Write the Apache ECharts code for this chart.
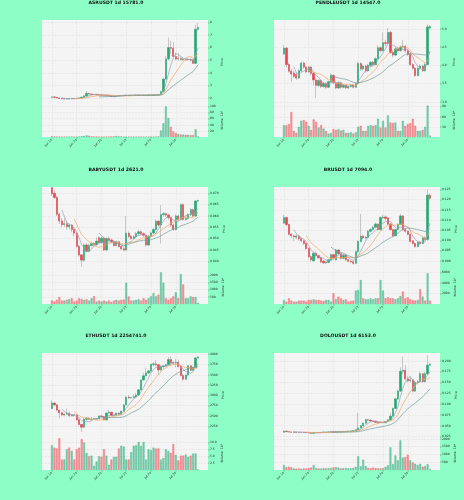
<!DOCTYPE html>
<html>
<head>
<meta charset="utf-8">
<script src="https://cdn.jsdelivr.net/npm/echarts@6/dist/echarts.min.js"></script>
<style>
  html, body { margin: 0; padding: 0; background: #8dffc6; }
  #chart { width: 464px; height: 500px; }
</style>
</head>
<body>
<div id="chart"></div>
<script>
// daily candles, Jun 10 - Aug 08
var dates = [
  'Jun 10','Jun 11','Jun 12','Jun 13','Jun 14','Jun 15','Jun 16','Jun 17','Jun 18','Jun 19',
  'Jun 20','Jun 21','Jun 22','Jun 23','Jun 24','Jun 25','Jun 26','Jun 27','Jun 28','Jun 29',
  'Jun 30','Jul 01','Jul 02','Jul 03','Jul 04','Jul 05','Jul 06','Jul 07','Jul 08','Jul 09',
  'Jul 10','Jul 11','Jul 12','Jul 13','Jul 14','Jul 15','Jul 16','Jul 17','Jul 18','Jul 19',
  'Jul 20','Jul 21','Jul 22','Jul 23','Jul 24','Jul 25','Jul 26','Jul 27','Jul 28','Jul 29',
  'Jul 30','Jul 31','Aug 01','Aug 02','Aug 03','Aug 04','Aug 05','Aug 06','Aug 07','Aug 08'
];

// [open, close, low, high]
var asrOhlc = [
  [2.06,2.08,2.04,2.10],[2.08,2.05,2.03,2.10],[2.05,2.00,1.98,2.07],[2.00,1.96,1.94,2.02],[1.96,1.93,1.91,1.98],
  [1.93,1.92,1.89,1.95],[1.92,1.93,1.90,1.95],[1.93,1.95,1.91,1.97],[1.95,1.96,1.93,1.98],[1.96,1.95,1.93,1.98],
  [1.95,1.98,1.94,2.00],[1.98,2.00,1.96,2.02],[2.00,2.06,1.98,2.09],[2.06,2.16,2.04,2.22],[2.16,2.36,2.13,2.55],
  [2.36,2.31,2.27,2.42],[2.31,2.28,2.25,2.34],[2.28,2.27,2.24,2.31],[2.27,2.25,2.22,2.30],[2.25,2.23,2.20,2.27],
  [2.23,2.22,2.19,2.26],[2.22,2.20,2.17,2.24],[2.20,2.18,2.15,2.22],[2.18,2.16,2.13,2.20],[2.16,2.12,2.10,2.18],
  [2.12,2.10,2.07,2.14],[2.10,2.16,2.08,2.18],[2.16,2.20,2.14,2.23],[2.20,2.19,2.17,2.23],[2.19,2.21,2.17,2.24],
  [2.21,2.22,2.19,2.27],[2.22,2.20,2.18,2.24],[2.20,2.22,2.18,2.24],[2.22,2.21,2.19,2.24],[2.21,2.23,2.19,2.25],
  [2.23,2.22,2.20,2.25],[2.22,2.21,2.19,2.24],[2.21,2.23,2.20,2.25],[2.23,2.22,2.20,2.25],[2.22,2.24,2.20,2.26],
  [2.24,2.23,2.21,2.27],[2.23,2.25,2.21,2.28],[2.25,2.24,2.22,2.28],[2.24,2.27,2.22,2.30],[2.27,2.50,2.25,2.55],
  [2.50,3.50,2.48,3.60],[3.50,5.10,3.45,5.30],[5.10,6.00,5.00,6.80],[6.00,5.95,5.50,6.55],[5.95,5.30,5.20,6.45],
  [5.30,5.10,5.00,5.60],[5.10,5.12,4.95,5.50],[5.12,5.05,4.95,5.35],[5.05,5.08,4.95,5.25],[5.08,5.05,4.92,5.20],
  [5.05,5.05,4.95,5.20],[5.05,5.00,4.90,5.20],[5.00,4.75,4.70,5.10],[4.75,7.45,4.70,7.80],[7.45,7.60,7.30,7.95]
];
var asrVol = [
  2,1.5,1.2,1,1,1.2,1,1,1.2,1,1,1.5,2.5,3.5,
  5,4,2,1.5,1.2,1,1,1,1,1.2,1.5,2,3,2.5,1.5,1.2,
  1,1,1,1,1,1.2,1,1,1.2,1,1.5,1,1.2,2,
  21,45,100,62,33,18,13,10,8,8,7,7,6,6,25,2
];

var pendleOhlc = [
  [4.31,4.47,4.28,4.55],[4.47,4.02,3.95,4.50],[4.02,3.84,3.80,4.08],[3.84,3.76,3.55,3.90],[3.79,3.70,3.65,3.85],
  [3.75,3.65,3.60,3.80],[3.65,3.85,3.62,3.90],[3.85,4.06,3.82,4.10],[4.06,3.95,3.90,4.10],[3.95,3.82,3.78,3.98],
  [3.82,3.95,3.78,3.98],[3.95,3.78,3.72,3.98],[3.78,3.60,3.45,3.82],[3.60,3.45,3.10,3.65],[3.45,3.58,3.40,3.62],
  [3.58,3.42,3.38,3.62],[3.42,3.50,3.38,3.55],[3.50,3.40,3.36,3.54],[3.40,3.55,3.38,3.58],[3.55,3.72,3.52,3.78],
  [3.72,3.52,3.48,3.75],[3.52,3.38,3.34,3.56],[3.38,3.52,3.35,3.56],[3.52,3.40,3.36,3.55],[3.40,3.45,3.37,3.49],
  [3.45,3.38,3.35,3.48],[3.38,3.42,3.35,3.45],[3.42,3.45,3.39,3.48],[3.46,3.40,3.37,3.49],[3.40,3.50,3.38,3.53],
  [3.50,4.05,3.48,4.10],[4.05,3.90,3.85,4.08],[3.90,3.98,3.86,4.02],[3.98,3.85,3.80,4.02],[3.85,4.00,3.82,4.04],
  [4.00,4.08,3.96,4.12],[4.08,4.02,3.98,4.12],[4.02,4.18,4.00,4.22],[4.18,4.48,4.15,4.55],[4.48,4.40,4.35,4.52],
  [4.40,4.62,4.38,4.90],[4.62,4.60,4.52,4.70],[4.60,4.90,4.58,5.02],[4.90,4.35,4.30,4.95],[4.35,4.28,4.22,4.40],
  [4.28,4.45,4.25,4.50],[4.45,4.40,4.36,4.50],[4.40,4.50,4.37,4.55],[4.50,4.52,4.45,4.70],[4.52,4.40,4.35,4.56],
  [4.40,4.30,4.25,4.44],[4.30,4.02,3.98,4.33],[4.02,3.92,3.88,4.06],[3.92,3.72,3.68,3.95],[3.72,3.92,3.70,3.96],
  [3.92,3.98,3.88,4.02],[3.98,3.85,3.82,4.02],[3.85,4.02,3.83,4.06],[4.02,5.05,4.00,5.12],[5.02,5.06,4.98,5.10]
];
var pendleVol = [
  35,35,38,74,18,12,30,48,50,45,33,21,52,45,28,35,25,18,10,12,
  23,21,23,19,21,12,12,14,10,14,30,33,18,18,33,35,33,35,54,28,
  48,28,64,43,41,43,18,18,48,33,38,41,54,33,18,18,21,30,93,4
];

var babyOhlc = [
  [0.0725,0.0698,0.0690,0.0728],[0.0700,0.0682,0.0675,0.0712],[0.0682,0.0608,0.0600,0.0688],[0.0608,0.0578,0.0565,0.0615],
  [0.0578,0.0562,0.0550,0.0590],[0.0562,0.0566,0.0552,0.0590],[0.0566,0.0552,0.0540,0.0575],[0.0552,0.0560,0.0540,0.0566],
  [0.0560,0.0540,0.0528,0.0565],[0.0540,0.0524,0.0510,0.0548],[0.0524,0.0466,0.0460,0.0530],[0.0466,0.0428,0.0420,0.0472],
  [0.0428,0.0405,0.0375,0.0432],[0.0405,0.0472,0.0398,0.0478],[0.0472,0.0444,0.0438,0.0480],[0.0444,0.0470,0.0440,0.0478],
  [0.0470,0.0478,0.0462,0.0488],[0.0478,0.0474,0.0466,0.0486],[0.0474,0.0489,0.0470,0.0505],[0.0504,0.0482,0.0478,0.0510],
  [0.0482,0.0502,0.0478,0.0510],[0.0502,0.0450,0.0445,0.0506],[0.0450,0.0500,0.0446,0.0506],[0.0500,0.0494,0.0488,0.0510],
  [0.0494,0.0486,0.0478,0.0500],[0.0486,0.0470,0.0465,0.0492],[0.0470,0.0486,0.0466,0.0492],[0.0486,0.0465,0.0460,0.0490],
  [0.0465,0.0455,0.0450,0.0472],[0.0455,0.0450,0.0445,0.0462],[0.0450,0.0524,0.0446,0.0600],[0.0524,0.0510,0.0502,0.0532],
  [0.0510,0.0500,0.0495,0.0516],[0.0500,0.0508,0.0494,0.0515],[0.0508,0.0522,0.0502,0.0530],[0.0522,0.0530,0.0515,0.0540],
  [0.0530,0.0522,0.0515,0.0536],[0.0522,0.0515,0.0508,0.0528],[0.0515,0.0472,0.0465,0.0520],[0.0472,0.0510,0.0468,0.0515],
  [0.0510,0.0525,0.0505,0.0532],[0.0525,0.0540,0.0520,0.0548],[0.0540,0.0577,0.0536,0.0585],[0.0577,0.0560,0.0552,0.0582],
  [0.0560,0.0606,0.0478,0.0648],[0.0606,0.0610,0.0598,0.0618],[0.0610,0.0604,0.0596,0.0615],[0.0604,0.0592,0.0585,0.0610],
  [0.0592,0.0560,0.0552,0.0598],[0.0560,0.0540,0.0535,0.0566],[0.0540,0.0600,0.0536,0.0606],[0.0600,0.0585,0.0578,0.0605],
  [0.0585,0.0650,0.0580,0.0655],[0.0650,0.0585,0.0578,0.0656],[0.0585,0.0590,0.0578,0.0598],[0.0590,0.0606,0.0584,0.0612],
  [0.0606,0.0628,0.0600,0.0635],[0.0628,0.0600,0.0594,0.0632],[0.0600,0.0666,0.0596,0.0670],[0.0666,0.0668,0.0660,0.0672]
];
var babyVol = [
  240,170,290,480,240,240,290,330,400,170,240,400,330,290,330,240,400,530,170,240,
  170,240,170,240,140,240,290,240,290,300,1480,520,240,240,290,330,240,400,290,400,
  530,760,530,640,2200,1480,400,290,400,530,810,400,2080,1360,400,400,530,480,480,80
];

var brOhlc = [
  [0.1085,0.1112,0.1080,0.1125],[0.1112,0.1078,0.1070,0.1118],[0.1078,0.1030,0.1025,0.1082],[0.1030,0.1022,0.1012,0.1038],
  [0.1022,0.1018,0.0998,0.1030],[0.1015,0.1022,0.1008,0.1030],[0.1022,0.1008,0.1000,0.1028],[0.1008,0.0998,0.0990,0.1015],
  [0.0998,0.0985,0.0978,0.1005],[0.0985,0.0960,0.0955,0.0990],[0.0960,0.0920,0.0912,0.0965],[0.0920,0.0905,0.0895,0.0926],
  [0.0900,0.0937,0.0895,0.0942],[0.0937,0.0925,0.0918,0.0945],[0.0925,0.0915,0.0908,0.0930],[0.0915,0.0895,0.0888,0.0920],
  [0.0898,0.0890,0.0884,0.0904],[0.0890,0.0893,0.0885,0.0898],[0.0893,0.0905,0.0888,0.0910],[0.0905,0.0930,0.0900,0.0936],
  [0.0930,0.0915,0.0908,0.0936],[0.0905,0.0953,0.0902,0.0958],[0.0953,0.0935,0.0928,0.0958],[0.0935,0.0912,0.0905,0.0940],
  [0.0912,0.0928,0.0908,0.0932],[0.0928,0.0905,0.0900,0.0932],[0.0905,0.0898,0.0892,0.0910],[0.0898,0.0895,0.0888,0.0903],
  [0.0895,0.0888,0.0882,0.0900],[0.0888,0.0945,0.0885,0.0950],[0.0945,0.0995,0.0940,0.1000],[0.0995,0.1020,0.0990,0.1130],
  [0.1020,0.1012,0.1005,0.1030],[0.1012,0.1015,0.1005,0.1022],[0.1015,0.1045,0.1010,0.1050],[0.1045,0.1053,0.1040,0.1060],
  [0.1053,0.1065,0.1048,0.1072],[0.1065,0.1080,0.1060,0.1088],[0.1080,0.1053,0.1048,0.1085],[0.1053,0.1112,0.1050,0.1118],
  [0.1112,0.1115,0.1105,0.1125],[0.1115,0.1108,0.1100,0.1122],[0.1110,0.1080,0.1075,0.1115],[0.1080,0.1053,0.1048,0.1085],
  [0.1053,0.1023,0.1018,0.1058],[0.1023,0.1053,0.1020,0.1058],[0.1053,0.1078,0.1050,0.1085],[0.1078,0.1120,0.1075,0.1130],
  [0.1120,0.1053,0.1048,0.1125],[0.1053,0.1045,0.1038,0.1060],[0.1045,0.1030,0.1025,0.1050],[0.1030,0.0995,0.0990,0.1035],
  [0.0998,0.0985,0.0978,0.1002],[0.0985,0.0970,0.0962,0.0990],[0.0970,0.0992,0.0965,0.0998],[0.0992,0.0985,0.0978,0.0998],
  [0.0985,0.1012,0.0980,0.1018],[0.1012,0.1005,0.0998,0.1020],[0.1005,0.1222,0.1000,0.1250],[0.1222,0.1207,0.1195,0.1232]
];
var brVol = [
  760,440,1080,630,440,440,630,630,630,440,760,760,890,760,760,630,570,760,760,440,
  2030,890,1400,1080,760,890,440,570,630,2540,2670,4570,1080,890,890,1080,890,1080,1080,4570,
  2540,1080,1270,1080,1080,890,1080,1520,2350,1080,1270,890,760,630,760,2800,1400,630,5840,630
];

var ethOhlc = [
  [2680,2815,2660,2880],[2815,2770,2740,2830],[2770,2645,2625,2790],[2645,2580,2440,2650],[2580,2525,2505,2600],
  [2525,2545,2500,2560],[2545,2565,2535,2680],[2565,2510,2480,2610],[2510,2525,2490,2545],[2525,2520,2480,2535],
  [2520,2410,2390,2545],[2410,2295,2285,2440],[2295,2230,2110,2300],[2230,2420,2200,2440],[2420,2450,2380,2470],
  [2450,2420,2410,2460],[2420,2425,2380,2470],[2425,2430,2405,2450],[2430,2435,2420,2445],[2435,2500,2425,2505],
  [2500,2485,2470,2520],[2485,2405,2390,2495],[2405,2570,2400,2580],[2570,2590,2560,2640],[2590,2515,2500,2600],
  [2515,2520,2500,2525],[2520,2570,2500,2580],[2570,2540,2520,2590],[2540,2615,2530,2630],[2615,2770,2610,2790],
  [2770,2955,2760,2990],[2955,2940,2915,3010],[2940,2945,2930,2960],[2945,2970,2940,3020],[2970,3010,2950,3060],
  [3010,3135,2990,3150],[3135,3375,3125,3385],[3375,3475,3365,3550],[3475,3545,3470,3675],[3545,3595,3530,3620],
  [3595,3755,3560,3760],[3755,3765,3715,3810],[3765,3745,3700,3860],[3745,3620,3510,3760],[3620,3700,3580,3730],
  [3700,3715,3650,3740],[3715,3745,3700,3765],[3745,3870,3740,3935],[3870,3795,3720,3940],[3795,3790,3740,3830],
  [3790,3805,3680,3880],[3805,3700,3680,3870],[3700,3485,3460,3720],[3485,3395,3355,3530],[3395,3495,3375,3500],
  [3495,3720,3485,3730],[3720,3610,3590,3730],[3610,3680,3600,3700],[3680,3910,3670,3940],[3910,3930,3900,3955]
];
var ethVol = [
  9.0,8.1,7.8,11.5,3.8,3.8,7.5,8.1,6.9,3.8,7.5,8.1,11.2,10.0,6.2,5.0,5.2,1.5,3.1,5.0,
  4.8,7.5,5.2,1.9,3.8,4.8,4.8,7.8,8.8,8.5,3.8,3.8,6.5,8.8,9.0,10.2,8.8,10.2,3.8,7.5,
  7.2,8.1,7.8,7.8,3.8,4.4,7.5,6.9,6.2,9.4,5.5,3.5,5.2,5.2,5.6,4.8,5.2,6.0,6.0,0.2
];

var doloOhlc = [
  [0.0352,0.0375,0.0345,0.0382],[0.0375,0.0362,0.0356,0.0380],[0.0362,0.0356,0.0350,0.0366],[0.0356,0.0352,0.0347,0.0360],
  [0.0352,0.0355,0.0348,0.0359],[0.0355,0.0350,0.0345,0.0358],[0.0350,0.0348,0.0343,0.0354],[0.0348,0.0350,0.0344,0.0354],
  [0.0350,0.0345,0.0340,0.0353],[0.0345,0.0340,0.0336,0.0349],[0.0340,0.0332,0.0328,0.0344],[0.0332,0.0325,0.0318,0.0336],
  [0.0325,0.0340,0.0322,0.0345],[0.0340,0.0345,0.0336,0.0350],[0.0345,0.0342,0.0338,0.0350],[0.0342,0.0348,0.0338,0.0352],
  [0.0348,0.0352,0.0344,0.0356],[0.0352,0.0350,0.0346,0.0356],[0.0350,0.0356,0.0346,0.0360],[0.0356,0.0360,0.0352,0.0365],
  [0.0360,0.0357,0.0352,0.0364],[0.0357,0.0362,0.0352,0.0385],[0.0362,0.0366,0.0358,0.0370],[0.0366,0.0362,0.0358,0.0370],
  [0.0362,0.0368,0.0358,0.0372],[0.0368,0.0372,0.0364,0.0376],[0.0372,0.0376,0.0368,0.0380],[0.0376,0.0378,0.0372,0.0384],
  [0.0378,0.0385,0.0374,0.0390],[0.0385,0.0410,0.0382,0.0416],[0.0410,0.0450,0.0405,0.0800],[0.0450,0.0500,0.0445,0.0512],
  [0.0500,0.0560,0.0495,0.0570],[0.0560,0.0640,0.0555,0.0660],[0.0640,0.0630,0.0620,0.0660],[0.0630,0.0610,0.0600,0.0645],
  [0.0610,0.0600,0.0590,0.0620],[0.0600,0.0580,0.0572,0.0608],[0.0580,0.0570,0.0562,0.0588],[0.0570,0.0580,0.0565,0.0585],
  [0.0580,0.0570,0.0562,0.0588],[0.0570,0.0600,0.0566,0.0606],[0.0600,0.0640,0.0596,0.0650],[0.0640,0.0720,0.0635,0.0800],
  [0.0720,0.0900,0.0715,0.0920],[0.0900,0.1120,0.0890,0.1150],[0.1120,0.1300,0.1100,0.1340],[0.1300,0.1760,0.1290,0.1850],
  [0.1760,0.1780,0.1700,0.2100],[0.1780,0.1580,0.1550,0.1900],[0.1580,0.1540,0.1500,0.1650],[0.1540,0.1560,0.1500,0.1620],
  [0.1560,0.1300,0.1270,0.1580],[0.1300,0.1500,0.1280,0.1540],[0.1500,0.1520,0.1460,0.1560],[0.1520,0.1700,0.1500,0.1740],
  [0.1700,0.1520,0.1500,0.1720],[0.1520,0.1700,0.1500,0.1740],[0.1700,0.1900,0.1680,0.2130],[0.1900,0.1920,0.1880,0.1960]
];
var doloVol = [
  310,170,210,170,100,80,90,80,100,90,120,150,310,120,100,90,110,100,120,130,
  170,180,150,100,110,120,100,110,130,200,870,230,660,250,130,110,150,120,110,100,
  120,200,300,1450,380,930,620,1900,790,830,980,620,480,400,310,400,210,250,380,60
];

// axis ticks
var asrPriceTicks = [2, 3, 4, 5, 6, 7, 8];
var asrVolTicks = [20, 40, 60, 80, 100];
var pendlePriceTicks = [3.0, 3.5, 4.0, 4.5, 5.0];
var pendleVolTicks = [30, 60, 90];
var babyPriceTicks = [0.040, 0.045, 0.050, 0.055, 0.060, 0.065, 0.070];
var babyVolTicks = [500, 1000, 1500, 2000];
var brPriceTicks = [0.090, 0.095, 0.100, 0.105, 0.110, 0.115, 0.120, 0.125];
var brVolTicks = [2000, 4000, 6000];
var ethPriceTicks = [2250, 2500, 2750, 3000, 3250, 3500, 3750, 4000];
var ethVolTicks = [2.5, 5.0, 7.5, 10.0];
var doloPriceTicks = [0.025, 0.050, 0.075, 0.100, 0.125, 0.150, 0.175, 0.200];
var doloVolTicks = [500, 1000, 1500, 2000];

var maWindows = [5, 10, 20];
var maColors = ['#9d9db4', '#f2a964', '#6f9d98'];

var UP = '#1aae74', DOWN = '#f1404b';
var UP_V = 'rgba(26,174,116,0.55)', DOWN_V = 'rgba(241,64,75,0.5)';
var FONT = 'DejaVu Sans';

var panels = [
  { title: 'ASRUSDT 1d 15781.0', ohlc: asrOhlc, vol: asrVol, pMin: 1.52, pMax: 8.19, pTicks: asrPriceTicks, pDec: 0,
    vMax: 108, vTicks: asrVolTicks, vDec: 0, vName: 'Volume  10\u2075' },
  { title: 'PENDLEUSDT 1d 14547.0', ohlc: pendleOhlc, vol: pendleVol, pMin: 2.94, pMax: 5.24, pTicks: pendlePriceTicks, pDec: 1,
    vMax: 98, vTicks: pendleVolTicks, vDec: 0, vName: 'Volume  10\u2074' },
  { title: 'BABYUSDT 1d 2621.0', ohlc: babyOhlc, vol: babyVol, pMin: 0.0357, pMax: 0.0728, pTicks: babyPriceTicks, pDec: 3,
    vMax: 2300, vTicks: babyVolTicks, vDec: 0, vName: 'Volume  10\u2074' },
  { title: 'BRUSDT 1d 7094.0', ohlc: brOhlc, vol: brVol, pMin: 0.085, pMax: 0.1262, pTicks: brPriceTicks, pDec: 3,
    vMax: 6300, vTicks: brVolTicks, vDec: 0, vName: 'Volume  10\u00b3' },
  { title: 'ETHUSDT 1d 2254741.0', ohlc: ethOhlc, vol: ethVol, pMin: 1990, pMax: 4030, pTicks: ethPriceTicks, pDec: 0,
    vMax: 12, vTicks: ethVolTicks, vDec: 1, vName: 'Volume  10\u2075' },
  { title: 'DOLOUSDT 1d 6153.0', ohlc: doloOhlc, vol: doloVol, pMin: 0.024, pMax: 0.218, pTicks: doloPriceTicks, pDec: 3,
    vMax: 2120, vTicks: doloVolTicks, vDec: 0, vName: 'Volume  10\u2074' }
];

// layout
var PAD = 4;
var colLeft = [42, 274];
var colCenter = [116, 348];
var plotW = 166;
var rowTop = [20, 187, 353];
var priceH = 84, volH = 33;

var cats = [];
for (var k = 0; k < dates.length + 2 * PAD; k++) cats.push(String(k));
function isTick(idx) {
  var d = idx - PAD;
  return d >= 0 && d < dates.length && d % 10 === 0;
}

function sma(ohlc, w) {
  var out = [];
  for (var i = w - 1; i < ohlc.length; i++) {
    var s = 0;
    for (var j = i - w + 1; j <= i; j++) s += ohlc[j][1];
    out.push([i + PAD, s / w]);
  }
  return out;
}

var titles = [], grids = [], xAxes = [], yAxes = [], series = [];

panels.forEach(function (p, n) {
  var col = n % 2, row = Math.floor(n / 2);
  var left = colLeft[col], top = rowTop[row];
  var gp = grids.length, gv = gp + 1;

  titles.push({
    text: p.title, left: colCenter[col], top: top - 19.5, textAlign: 'center', padding: 0,
    textStyle: { fontSize: 4.6, fontWeight: 'bold', color: '#111', fontFamily: FONT }
  });

  grids.push({ left: left, top: top, width: plotW, height: priceH, show: true, backgroundColor: '#f4f4f4', borderWidth: 0 });
  grids.push({ left: left, top: top + priceH, width: plotW, height: volH, show: true, backgroundColor: '#f4f4f4', borderWidth: 0 });

  var split = { show: true, interval: function (i) { return isTick(i); }, lineStyle: { color: '#dedede', width: 0.5, type: 'dashed' } };
  xAxes.push({ type: 'category', gridIndex: gp, data: cats, boundaryGap: false,
    axisLine: { show: false }, axisTick: { show: false }, axisLabel: { show: false }, splitLine: split });
  xAxes.push({ type: 'category', gridIndex: gv, data: cats, boundaryGap: false,
    axisLine: { show: false },
    axisTick: { show: true, interval: function (i) { return isTick(i); }, length: 1.5, lineStyle: { color: '#555', width: 0.4 } },
    axisLabel: { show: true, interval: function (i) { return isTick(i); }, rotate: 45, fontSize: 3, margin: 2.5, color: '#222', fontFamily: FONT,
      formatter: function (v) { return dates[Number(v) - PAD] || ''; } },
    splitLine: split });

  var ySplit = { show: true, lineStyle: { color: '#dedede', width: 0.5, type: 'dashed' } };
  yAxes.push({ type: 'value', gridIndex: gp, position: 'right', min: p.pMin, max: p.pMax,
    axisLine: { show: false },
    axisTick: { show: true, length: 1.5, customValues: p.pTicks, lineStyle: { color: '#555', width: 0.4 } },
    axisLabel: { customValues: p.pTicks, fontSize: 3, margin: 2, color: '#222', fontFamily: FONT,
      formatter: function (v) { return v.toFixed(p.pDec); } },
    splitLine: ySplit,
    name: 'Price', nameLocation: 'middle', nameGap: 13, nameRotate: 90,
    nameTextStyle: { fontSize: 3.2, color: '#222', fontFamily: FONT } });
  yAxes.push({ type: 'value', gridIndex: gv, position: 'right', min: 0, max: p.vMax,
    axisLine: { show: false },
    axisTick: { show: true, length: 1.5, customValues: p.vTicks, lineStyle: { color: '#555', width: 0.4 } },
    axisLabel: { customValues: p.vTicks, fontSize: 3, margin: 2, color: '#222', fontFamily: FONT,
      formatter: function (v) { return v.toFixed(p.vDec); } },
    splitLine: ySplit,
    name: p.vName, nameLocation: 'middle', nameGap: 13, nameRotate: 90,
    nameTextStyle: { fontSize: 3.2, color: '#222', fontFamily: FONT } });

  // wicks (gray), then bodies on top
  series.push({ type: 'candlestick', xAxisIndex: gp, yAxisIndex: gp, barWidth: 1.8, silent: true,
    encode: { x: 0, y: [1, 2, 3, 4] },
    data: p.ohlc.map(function (r, i) { return [i + PAD, r[0], r[1], r[2], r[3]]; }),
    itemStyle: { color: 'transparent', color0: 'transparent', borderColor: '#a5a5a5', borderColor0: '#a5a5a5', borderColorDoji: '#a5a5a5', borderWidth: 0.6 } });
  series.push({ type: 'candlestick', xAxisIndex: gp, yAxisIndex: gp, barWidth: 1.8, silent: true,
    encode: { x: 0, y: [1, 2, 3, 4] },
    data: p.ohlc.map(function (r, i) { return [i + PAD, r[0], r[1], Math.min(r[0], r[1]), Math.max(r[0], r[1])]; }),
    itemStyle: { color: UP, color0: DOWN, borderColor: UP, borderColor0: DOWN, borderColorDoji: UP, borderWidth: 0.4 } });

  maWindows.forEach(function (w, m) {
    series.push({ type: 'line', xAxisIndex: gp, yAxisIndex: gp, data: sma(p.ohlc, w), showSymbol: false, silent: true,
      lineStyle: { color: maColors[m], width: 0.7 }, z: 3 });
  });

  series.push({ type: 'bar', xAxisIndex: gv, yAxisIndex: gv, barWidth: 1.8, silent: true,
    data: p.vol.map(function (v, i) {
      var up = p.ohlc[i][1] >= p.ohlc[i][0];
      return { value: [i + PAD, v], itemStyle: { color: up ? UP_V : DOWN_V, borderColor: up ? UP : DOWN, borderWidth: 0.3 } };
    }) });
});

var chart = echarts.init(document.getElementById('chart'));
chart.setOption({
  backgroundColor: '#8dffc6',
  animation: false,
  textStyle: { fontFamily: FONT },
  title: titles,
  grid: grids,
  xAxis: xAxes,
  yAxis: yAxes,
  series: series
});
</script>
</body>
</html>
